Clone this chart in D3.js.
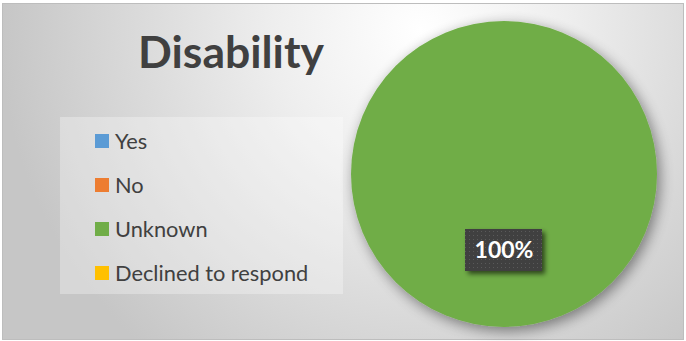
<!DOCTYPE html>
<html><head><meta charset="utf-8">
<script src="https://cdn.jsdelivr.net/npm/d3@7"></script>
<style>html,body{margin:0;padding:0;background:#fff;}svg{display:block;}</style>
</head><body>
<script>
const categories = ["Yes", "No", "Unknown", "Declined to respond"];
const values = [0, 0, 100, 0];
const colors = ["#5B9BD5", "#ED7D31", "#70AD47", "#FFC000"];
const title = "Disability";

const W = 686, H = 341;
const svg = d3.select("body").append("svg").attr("width", W).attr("height", H);
const defs = svg.append("defs");

const bg = defs.append("radialGradient").attr("id", "bg")
  .attr("gradientUnits", "userSpaceOnUse").attr("cx", 420).attr("cy", 30).attr("r", 420);
bg.append("stop").attr("offset", "0").attr("stop-color", "#ffffff");
bg.append("stop").attr("offset", "0.35").attr("stop-color", "#eeeeee");
bg.append("stop").attr("offset", "1").attr("stop-color", "#c6c6c6");

const sh = defs.append("filter").attr("id", "pieShadow").attr("x", "-20%").attr("y", "-20%").attr("width", "140%").attr("height", "140%");
sh.append("feGaussianBlur").attr("in", "SourceAlpha").attr("stdDeviation", 7).attr("result", "b");
sh.append("feOffset").attr("in", "b").attr("dx", 3).attr("dy", 4).attr("result", "o");
sh.append("feComponentTransfer").attr("in", "o").attr("result", "o2")
  .append("feFuncA").attr("type", "linear").attr("slope", 0.45);
const m = sh.append("feMerge"); m.append("feMergeNode").attr("in", "o2"); m.append("feMergeNode").attr("in", "SourceGraphic");

const sh2 = defs.append("filter").attr("id", "lblShadow").attr("x", "-20%").attr("y", "-30%").attr("width", "150%").attr("height", "170%");
sh2.append("feGaussianBlur").attr("in", "SourceAlpha").attr("stdDeviation", 2.5).attr("result", "b");
sh2.append("feOffset").attr("in", "b").attr("dx", 3).attr("dy", 3).attr("result", "o");
sh2.append("feComponentTransfer").attr("in", "o").attr("result", "o2")
  .append("feFuncA").attr("type", "linear").attr("slope", 0.6);
const m2 = sh2.append("feMerge"); m2.append("feMergeNode").attr("in", "o2"); m2.append("feMergeNode").attr("in", "SourceGraphic");

const pat = defs.append("pattern").attr("id", "dots").attr("patternUnits", "userSpaceOnUse")
  .attr("width", 4).attr("height", 4);
pat.append("rect").attr("width", 4).attr("height", 4).attr("fill", "#404040");
pat.append("rect").attr("x", 1).attr("y", 1).attr("width", 1).attr("height", 1).attr("fill", "#5a5a5a");

// background + border
svg.append("rect").attr("x", 2.5).attr("y", 3.5).attr("width", 681).attr("height", 336)
  .attr("fill", "url(#bg)").attr("stroke", "#bdbdbd").attr("stroke-width", 1);

// title
svg.append("text").attr("x", 231).attr("y", 68).attr("text-anchor", "middle")
  .attr("font-family", "Lato, Carlito, sans-serif").attr("font-weight", "bold")
  .attr("font-size", 44.5).attr("fill", "#404040").text(title);

// legend
const lg = svg.append("g");
lg.append("rect").attr("x", 60).attr("y", 117).attr("width", 283).attr("height", 177)
  .attr("fill", "#ffffff").attr("fill-opacity", 0.3);
const ly = d3.scalePoint().domain(categories).range([141, 273]);
const items = lg.selectAll("g.item").data(categories).join("g").attr("class", "item")
  .attr("transform", d => `translate(95,${ly(d)})`);
items.append("rect").attr("x", 0).attr("y", -7).attr("width", 14).attr("height", 14)
  .attr("fill", (d, i) => colors[i]);
items.append("text").attr("x", 20).attr("y", 7.5)
  .attr("font-family", "Lato, Carlito, sans-serif").attr("font-size", 21.8)
  .attr("fill", "#404040").text(d => d);

// pie
const cx = 504, cy = 174, r = 153;
const data = categories.map((c, i) => ({ c, v: values[i], col: colors[i] }));
const pie = d3.pie().value(d => d.v).sort(null);
const arc = d3.arc().innerRadius(0).outerRadius(r);
const g = svg.append("g").attr("transform", `translate(${cx},${cy})`);
const arcs = pie(data).filter(a => a.data.v > 0);
g.append("g").attr("filter", "url(#pieShadow)").selectAll("path").data(arcs).join("path")
  .attr("d", arc).attr("fill", a => a.data.col);

// labels
const total = d3.sum(values);
const fmt = d3.format(".0%");
arcs.forEach(a => {
  const lbl = g.append("g").attr("transform", `translate(0,76)`);
  lbl.append("rect").attr("x", -39).attr("y", -21).attr("width", 77).attr("height", 42)
    .attr("fill", "url(#dots)").attr("filter", "url(#lblShadow)");
  lbl.append("text").attr("x", 0).attr("y", 8).attr("text-anchor", "middle")
    .attr("font-family", "Lato, Carlito, sans-serif").attr("font-weight", "bold")
    .attr("font-size", 23).attr("fill", "#ffffff").text(fmt(a.data.v / total));
});
</script>
</body></html>
